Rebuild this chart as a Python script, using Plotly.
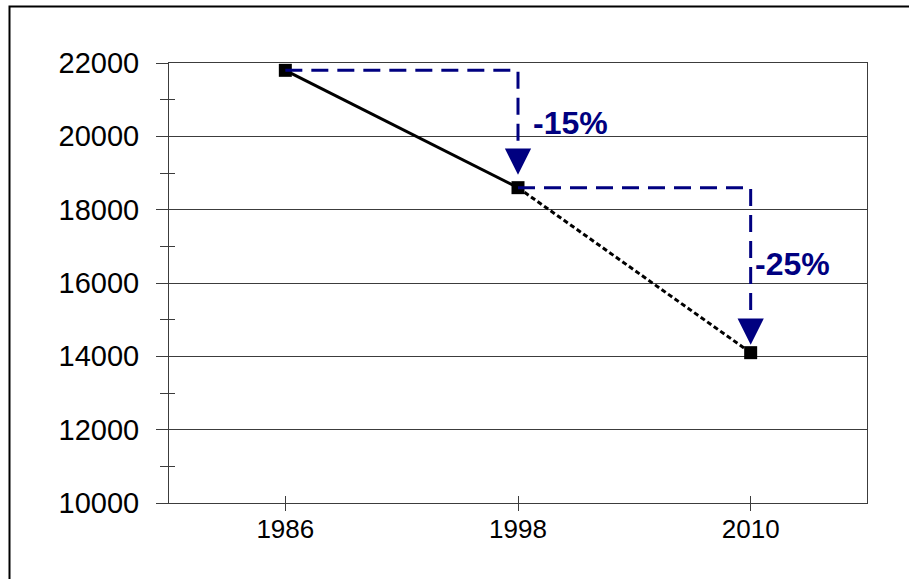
import plotly.graph_objects as go

# Data
YEARS = ["1986", "1998", "2010"]
VALUES = [21800, 18600, 14100]
CHANGE_LABELS = ["-15%", "-25%"]
Y_TICKS = [10000, 12000, 14000, 16000, 18000, 20000, 22000]
Y_MINOR = [11000, 13000, 15000, 17000, 19000, 21000]

# Styling
NAVY = "#000080"
AXIS_GREY = "#3c3c3c"
FONT = "Liberation Sans"

W, H = 909, 579
MARGIN = dict(l=169, r=42, t=63, b=76)
PLOT_W = W - MARGIN["l"] - MARGIN["r"]
PLOT_H = H - MARGIN["t"] - MARGIN["b"]
Y_RANGE = [Y_TICKS[0], Y_TICKS[-1]]
UNITS_PER_PX = (Y_RANGE[1] - Y_RANGE[0]) / PLOT_H

ARROW_STANDOFF = [13, 8]   # px gap between arrow tip and the point it marks
LABEL_XSHIFT = [13, 2]     # px from the vertical arrow to the label

fig = go.Figure()

# measured decline (solid) and projected decline (dotted)
fig.add_trace(go.Scatter(x=YEARS[:2], y=VALUES[:2], mode="lines",
                         line=dict(color="black", width=3)))
fig.add_trace(go.Scatter(x=YEARS[1:], y=VALUES[1:], mode="lines",
                         line=dict(color="black", width=3, dash="5px,3px")))
fig.add_trace(go.Scatter(x=YEARS, y=VALUES, mode="markers",
                         marker=dict(symbol="square", size=13, color="black")))

annotations = []
# dashed step arrows with the percentage change between successive years
for i in range(len(YEARS) - 1):
    x0, x1 = YEARS[i], YEARS[i + 1]
    v0, v1 = VALUES[i], VALUES[i + 1]
    stop = v1 + (ARROW_STANDOFF[i] + 14) * UNITS_PER_PX
    fig.add_trace(go.Scatter(x=[x0, x1, x1], y=[v0, v0, stop], mode="lines",
                             line=dict(color=NAVY, width=3, dash="17px,9px")))
    annotations.append(dict(x=i + 1, y=v1, xref="x", yref="y",
                            ax=0, ay=-(ARROW_STANDOFF[i] + 32), text=" ",
                            showarrow=True, arrowhead=2, arrowsize=2.1, arrowwidth=2.5,
                            arrowcolor=NAVY, standoff=ARROW_STANDOFF[i]))
    annotations.append(dict(x=i + 1, y=(v0 + v1) / 2, xref="x", yref="y",
                            text=f"<b>{CHANGE_LABELS[i]}</b>",
                            showarrow=False, xanchor="left", yanchor="middle",
                            xshift=LABEL_XSHIFT[i], yshift=6,
                            font=dict(family=FONT, size=32, color=NAVY)))

# invisible copy on the overlay axes that carry the other half of the ticks
fig.add_trace(go.Scatter(x=YEARS, y=VALUES, xaxis="x2", yaxis="y2", mode="markers",
                         marker=dict(opacity=0), hoverinfo="skip"))

# outer frame around the whole chart
fig.add_shape(type="rect", xref="paper", yref="paper",
              x0=(9.5 - MARGIN["l"]) / PLOT_W, x1=(W + 20 - MARGIN["l"]) / PLOT_W,
              y0=1 - (H + 20 - MARGIN["t"]) / PLOT_H, y1=1 + (MARGIN["t"] - 6.5) / PLOT_H,
              line=dict(color="black", width=2), fillcolor="rgba(0,0,0,0)", layer="above")

fig.update_layout(
    width=W, height=H, margin=MARGIN,
    paper_bgcolor="white", plot_bgcolor="white",
    showlegend=False,
    annotations=annotations,
    font=dict(family=FONT, color="black"),
    xaxis=dict(type="category", range=[-0.5, len(YEARS) - 0.5],
               showgrid=False, zeroline=False,
               showline=True, linecolor=AXIS_GREY, linewidth=1, mirror=True,
               ticks="inside", ticklen=7, tickcolor=AXIS_GREY, tickwidth=1,
               tickfont=dict(size=26), ticklabelstandoff=3),
    yaxis=dict(range=Y_RANGE, tickmode="array", tickvals=Y_TICKS, tickformat="d",
               showgrid=True, gridcolor=AXIS_GREY, gridwidth=1, zeroline=False,
               showline=True, linecolor=AXIS_GREY, linewidth=1, mirror=True,
               ticks="outside", ticklen=12, tickcolor=AXIS_GREY, tickwidth=1,
               minor=dict(tickmode="array", tickvals=Y_MINOR, ticks="outside",
                          ticklen=8, tickcolor=AXIS_GREY, showgrid=False),
               tickfont=dict(size=29), ticklabelstandoff=11),
    xaxis2=dict(type="category", overlaying="x", anchor="y2",
                range=[-0.5, len(YEARS) - 0.5],
                showgrid=False, zeroline=False, showline=False,
                ticks="outside", ticklen=7, tickcolor=AXIS_GREY, tickwidth=1,
                showticklabels=False),
    yaxis2=dict(overlaying="y", anchor="x2", side="left", range=Y_RANGE,
                tickmode="array", tickvals=Y_TICKS,
                showgrid=False, zeroline=False, showline=False,
                ticks="inside", ticklen=11, tickcolor=AXIS_GREY, tickwidth=1,
                minor=dict(tickmode="array", tickvals=Y_MINOR, ticks="inside",
                           ticklen=6, tickcolor=AXIS_GREY, showgrid=False),
                showticklabels=False),
)

fig.write_html("out.html")
